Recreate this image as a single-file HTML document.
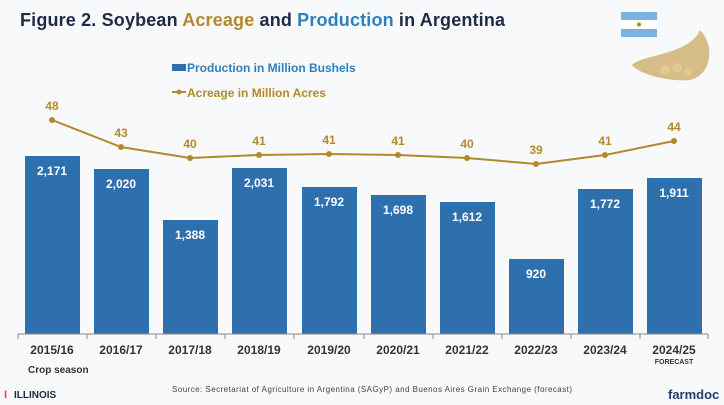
<!DOCTYPE html>
<html><head><meta charset="utf-8"><style>
body{margin:0;width:724px;height:400px;background:#f8f9fb;overflow:hidden;font-family:"Liberation Sans",Arial,sans-serif}
</style></head><body>
<svg width="724" height="400" viewBox="0 0 724 400" xmlns="http://www.w3.org/2000/svg" font-family="Liberation Sans, Arial, sans-serif">
<text x="20" y="26" font-size="18" font-weight="bold" fill="#1f2a44" textLength="485">Figure 2. Soybean <tspan fill="#b38a2a">Acreage</tspan> and <tspan fill="#2e7fbf">Production</tspan> in Argentina</text>
<rect x="621" y="12" width="36" height="8" fill="#7ab3e0"/><rect x="621" y="20" width="36" height="9" fill="#fff"/><rect x="621" y="29" width="36" height="8" fill="#7ab3e0"/><circle cx="639" cy="24.5" r="2" fill="#b8861e"/>
<path d="M700 30 C715 45 712 75 690 80 C670 82 640 75 632 65 C640 55 690 55 700 30Z" fill="#d6bc86"/>
<circle cx="665" cy="70" r="5" fill="#e2c98f"/><circle cx="677" cy="68" r="5" fill="#e2c98f"/><circle cx="688" cy="72" r="4" fill="#e2c98f"/>
<rect x="172" y="64" width="14" height="7" fill="#2e6fad"/>
<text x="187" y="72" font-size="12" font-weight="bold" fill="#2e7fbf">Production in Million Bushels</text>
<line x1="172" y1="92" x2="186" y2="92" stroke="#b38a2a" stroke-width="2"/><circle cx="179" cy="92" r="2.5" fill="#b38a2a"/>
<text x="187" y="97" font-size="12" font-weight="bold" fill="#b38a2a">Acreage in Million Acres</text>
<g fill="#2e6fad">
<rect x="25" y="156" width="55" height="178"/>
<rect x="94" y="169" width="55" height="165"/>
<rect x="163" y="220" width="55" height="114"/>
<rect x="232" y="168" width="55" height="166"/>
<rect x="302" y="187" width="55" height="147"/>
<rect x="371" y="195" width="55" height="139"/>
<rect x="440" y="202" width="55" height="132"/>
<rect x="509" y="259" width="55" height="75"/>
<rect x="578" y="189" width="55" height="145"/>
<rect x="647" y="178" width="55" height="156"/>
</g>
<g font-size="12" font-weight="bold" fill="#fff" text-anchor="middle">
<text x="52" y="175">2,171</text><text x="121" y="188">2,020</text><text x="190" y="239">1,388</text>
<text x="259" y="187">2,031</text><text x="329" y="206">1,792</text><text x="398" y="214">1,698</text>
<text x="467" y="221">1,612</text><text x="536" y="278">920</text><text x="605" y="208">1,772</text><text x="674" y="197">1,911</text>
</g>
<polyline fill="none" stroke="#b38a2a" stroke-width="2" points="52,120 121,147 190,158 259,155 329,154 398,155 467,158 536,164 605,155 674,141"/>
<g fill="#b38a2a"><circle cx="52" cy="120" r="3"/><circle cx="121" cy="147" r="3"/><circle cx="190" cy="158" r="3"/><circle cx="259" cy="155" r="3"/><circle cx="329" cy="154" r="3"/><circle cx="398" cy="155" r="3"/><circle cx="467" cy="158" r="3"/><circle cx="536" cy="164" r="3"/><circle cx="605" cy="155" r="3"/><circle cx="674" cy="141" r="3"/></g>
<g font-size="12" font-weight="bold" fill="#b38a2a" text-anchor="middle">
<text x="52" y="110">48</text><text x="121" y="137">43</text><text x="190" y="148">40</text><text x="259" y="145">41</text><text x="329" y="144">41</text><text x="398" y="145">41</text><text x="467" y="148">40</text><text x="536" y="154">39</text><text x="605" y="145">41</text><text x="674" y="131">44</text>
</g>
<line x1="18" y1="334" x2="708" y2="334" stroke="#888" stroke-width="1"/>
<g stroke="#888"><line x1="18" y1="334" x2="18" y2="339"/><line x1="87" y1="334" x2="87" y2="339"/><line x1="156" y1="334" x2="156" y2="339"/><line x1="225" y1="334" x2="225" y2="339"/><line x1="294" y1="334" x2="294" y2="339"/><line x1="364" y1="334" x2="364" y2="339"/><line x1="433" y1="334" x2="433" y2="339"/><line x1="502" y1="334" x2="502" y2="339"/><line x1="571" y1="334" x2="571" y2="339"/><line x1="640" y1="334" x2="640" y2="339"/><line x1="708" y1="334" x2="708" y2="339"/></g>
<g font-size="12" font-weight="bold" fill="#333" text-anchor="middle">
<text x="52" y="354">2015/16</text><text x="121" y="354">2016/17</text><text x="190" y="354">2017/18</text><text x="259" y="354">2018/19</text><text x="329" y="354">2019/20</text><text x="398" y="354">2020/21</text><text x="467" y="354">2021/22</text><text x="536" y="354">2022/23</text><text x="605" y="354">2023/24</text><text x="674" y="354">2024/25</text>
</g>
<text x="674" y="364" font-size="7" font-weight="bold" fill="#333" text-anchor="middle">FORECAST</text>
<text x="28" y="373" font-size="10" font-weight="bold" fill="#333">Crop season</text>
<text x="172" y="392" font-size="8" fill="#444" textLength="400">Source: Secretariat of Agriculture in Argentina (SAGyP) and Buenos Aires Grain Exchange (forecast)</text>
<text x="4" y="398" font-size="11" font-weight="bold" fill="#e84a27">I</text>
<text x="14" y="398" font-size="10" font-weight="bold" fill="#1f2a44">ILLINOIS</text>
<text x="668" y="399" font-size="13" font-weight="bold" fill="#1f3f6e">farmdoc</text>
</svg>
</body></html>
